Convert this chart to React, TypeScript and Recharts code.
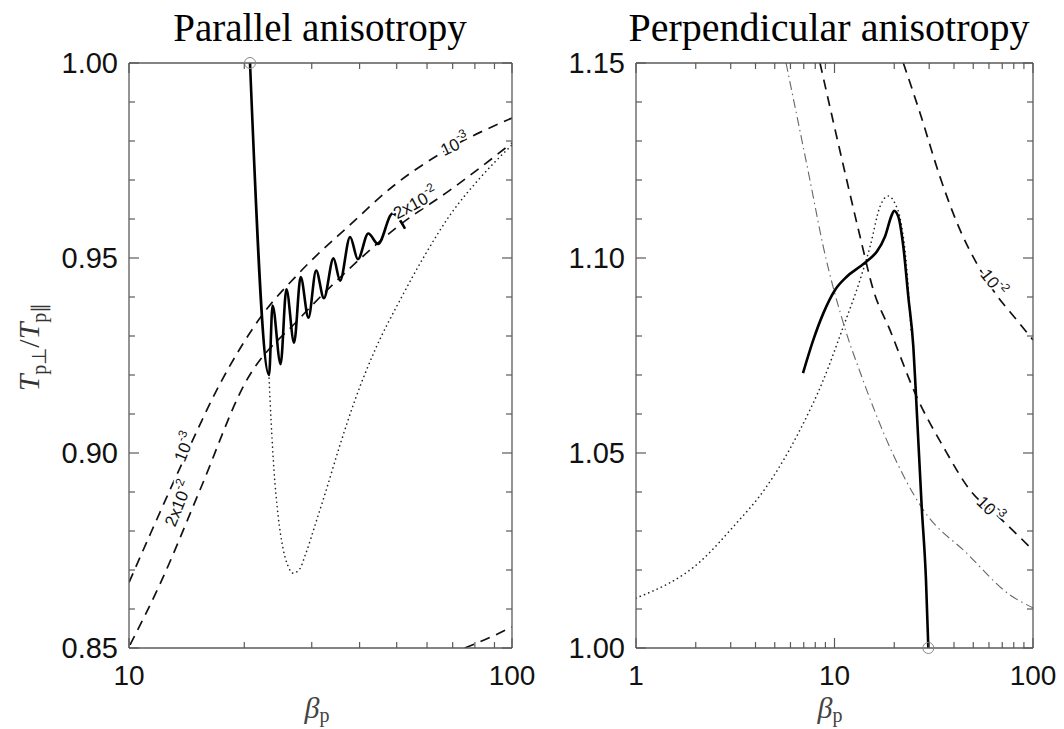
import React from "react";
import { LineChart, Line, XAxis, YAxis, ReferenceDot } from "recharts";

// ---- left panel: parallel anisotropy ----
const parTicksX = [10, 20, 30, 40, 50, 60, 70, 80, 90, 100];
const parLabelsX = [10, 100];
const parMajorX = [10, 100];
const parTicksY = [0.85, 0.86, 0.87, 0.88, 0.89, 0.9, 0.91, 0.92, 0.93, 0.94, 0.95, 0.96, 0.97, 0.98, 0.99, 1.0];
const parMajorY = [0.85, 0.9, 0.95, 1.0];

// solid: trajectory (drops from the circle then oscillates)
const parPathBeta = [20.7, 23.21, 23.7, 24.88, 25.76, 26.98, 28.07, 29.41, 30.8, 32.28, 34.19, 35.58, 37.78, 39.59, 42.15, 44.69, 48.77, 52.56];
const parPathRatio = [1.0, 0.92, 0.9378, 0.9228, 0.942, 0.9283, 0.9451, 0.9347, 0.9468, 0.9397, 0.9499, 0.9442, 0.9554, 0.9497, 0.9563, 0.9536, 0.9614, 0.9575];

// dashed contours
const parC3Beta = [10, 11.34, 13.59, 17.49, 21.98, 27.96, 37.76, 48.91, 68.89, 100];
const parC3Ratio = [0.8668, 0.879, 0.8962, 0.9187, 0.9346, 0.9464, 0.9585, 0.9684, 0.9782, 0.9859];
const parC2Beta = [10.06, 12.05, 15.32, 20.09, 27.96, 37.76, 51.0, 68.89, 100];
const parC2Ratio = [0.8508, 0.8664, 0.8905, 0.9179, 0.9346, 0.9474, 0.9585, 0.9674, 0.9795];
const parC1Beta = [75.3, 87.6, 100];
const parC1Ratio = [0.85, 0.8527, 0.8554];

// dotted: marginal stability curve
const parDotBeta = [23.21, 23.49, 23.91, 24.5, 25.24, 26.02, 26.81, 27.79, 28.99, 30.6, 32.49, 35.56, 38.91, 43.88, 51.0, 59.28, 68.89, 82.48, 100];
const parDotRatio = [0.9192, 0.9085, 0.8956, 0.8841, 0.8756, 0.871, 0.8692, 0.87, 0.8744, 0.8815, 0.8895, 0.9021, 0.9136, 0.9264, 0.9392, 0.9508, 0.961, 0.9705, 0.979];

// ---- right panel: perpendicular anisotropy ----
const perpTicksX = [1, 2, 3, 4, 5, 6, 7, 8, 9, 10, 20, 30, 40, 50, 60, 70, 80, 90, 100];
const perpLabelsX = [1, 10, 100];
const perpMajorX = [1, 10, 100];
const perpTicksY = [1.0, 1.01, 1.02, 1.03, 1.04, 1.05, 1.06, 1.07, 1.08, 1.09, 1.1, 1.11, 1.12, 1.13, 1.14, 1.15];
const perpMajorY = [1.0, 1.05, 1.1, 1.15];

const perpPathBeta = [6.94, 7.82, 8.78, 10.06, 11.52, 13.45, 14.8, 16.32, 17.97, 19.42, 19.94, 20.96, 22.22, 23.54, 24.95, 25.65, 27.5, 28.9, 29.7];
const perpPathRatio = [1.0705, 1.079, 1.0858, 1.0918, 1.0952, 1.0978, 1.0995, 1.1016, 1.1055, 1.111, 1.1121, 1.1106, 1.1029, 1.0901, 1.0773, 1.0662, 1.0362, 1.0174, 1.0];

const perpDotBeta = [1.0, 2.1, 3.09, 4.55, 6.7, 8.78, 11.08, 13.45, 15.1, 16.95, 18.66, 20.17, 21.38, 22.92, 24.29];
const perpDotRatio = [1.0128, 1.0221, 1.0311, 1.0414, 1.0559, 1.0687, 1.0824, 1.0944, 1.1029, 1.1132, 1.1159, 1.114, 1.1103, 1.0995, 1.0815];

const perpDashDotBeta = [5.7, 7.52, 8.78, 11.08, 13.92, 18.32, 28.02, 46.35, 76.6, 100];
const perpDashDotRatio = [1.15, 1.12, 1.1029, 1.0833, 1.0687, 1.0533, 1.0354, 1.0243, 1.0136, 1.0103];

const perpC3Beta = [8.45, 11.52, 13.45, 15.69, 19.04, 25.95, 35.32, 48.16, 68.22, 100];
const perpC3Ratio = [1.15, 1.12, 1.1055, 1.0918, 1.0815, 1.0644, 1.0516, 1.0405, 1.0333, 1.0251];
const perpC2Beta = [22.22, 26.96, 34.0, 42.88, 52.04, 62.87, 82.8, 100];
const perpC2Ratio = [1.15, 1.1372, 1.1208, 1.1072, 1.0986, 1.0918, 1.0841, 1.079];

const AXIS = "#5a5a5a";
const SANS = "'Liberation Sans', Arial, sans-serif";
const SERIF = "'Liberation Serif', 'Times New Roman', serif";

type Pt = { beta: number; ratio: number };
const zip = (b: number[], r: number[]): Pt[] => b.map((beta, i) => ({ beta, ratio: r[i] }));

function XTick(props: any) {
  const { x, y, payload, labels, majors, top } = props;
  const v = payload.value;
  const len = majors.includes(v) ? 10 : 6;
  const dir = top ? 1 : -1;
  return (
    <g>
      <line x1={x} x2={x} y1={y} y2={y + dir * len} stroke={AXIS} strokeWidth={1.2} />
      {!top && labels.includes(v) && (
        <text x={x} y={y + 37} textAnchor="middle" fontFamily={SANS} fontSize={28} fill="#111">
          {v}
        </text>
      )}
    </g>
  );
}

function YTick(props: any) {
  const { x, y, payload, majors, right } = props;
  const v = payload.value;
  const major = majors.some((m: number) => Math.abs(m - v) < 1e-6);
  const len = major ? 10 : 6;
  const dir = right ? -1 : 1;
  return (
    <g>
      <line x1={x} x2={x + dir * len} y1={y} y2={y} stroke={AXIS} strokeWidth={1.2} />
      {!right && major && (
        <text x={x - 11} y={y + 10} textAnchor="end" fontFamily={SANS} fontSize={29} fill="#111">
          {v.toFixed(2)}
        </text>
      )}
    </g>
  );
}

function contourLabel(base: string, exp: string, angle: number) {
  return (p: any) => (
    <text
      x={p.cx}
      y={p.cy}
      transform={`rotate(${angle} ${p.cx} ${p.cy})`}
      textAnchor="middle"
      dominantBaseline="central"
      fontFamily={SANS}
      fontSize={17}
      fill="#111"
      stroke="#fff"
      strokeWidth={4}
      paintOrder="stroke"
    >
      {base}
      <tspan dy={-7} fontSize={12}>
        {exp}
      </tspan>
    </text>
  );
}

const ringShape = (p: any) => <circle cx={p.cx} cy={p.cy} r={5.5} fill="none" stroke="#888" strokeWidth={1} />;

type PanelProps = {
  width: number;
  margin: { top: number; right: number; bottom: number; left: number };
  domX: number[];
  ticksX: number[];
  labelsX: number[];
  majorX: number[];
  domY: number[];
  ticksY: number[];
  majorY: number[];
  children: React.ReactNode;
};

function Panel({ width, margin, domX, ticksX, labelsX, majorX, domY, ticksY, majorY, children }: PanelProps) {
  const axisLine = { stroke: AXIS, strokeWidth: 1.3 };
  const xCommon = {
    dataKey: "beta",
    type: "number" as const,
    scale: "log" as const,
    domain: domX,
    ticks: ticksX,
    interval: 0,
    allowDataOverflow: true,
    height: 1,
    tickSize: 0,
    tickMargin: 0,
    tickLine: false,
    axisLine,
  };
  const yCommon = {
    dataKey: "ratio",
    type: "number" as const,
    domain: domY,
    ticks: ticksY,
    interval: 0,
    allowDataOverflow: true,
    width: 1,
    tickSize: 0,
    tickMargin: 0,
    tickLine: false,
    axisLine,
  };
  return (
    <LineChart width={width} height={729} margin={margin}>
      <XAxis xAxisId="b" {...xCommon} tick={(p: any) => <XTick {...p} labels={labelsX} majors={majorX} />} />
      <XAxis xAxisId="t" orientation="top" {...xCommon} tick={(p: any) => <XTick {...p} labels={labelsX} majors={majorX} top />} />
      <YAxis yAxisId="l" {...yCommon} tick={(p: any) => <YTick {...p} majors={majorY} />} />
      <YAxis yAxisId="r" orientation="right" {...yCommon} tick={(p: any) => <YTick {...p} majors={majorY} right />} />
      {children}
    </LineChart>
  );
}

const dashed = { stroke: "#111", strokeWidth: 1.7, strokeDasharray: "10 7" };
const dotted = { stroke: "#222", strokeWidth: 1.6, strokeDasharray: "0.1 4.5", strokeLinecap: "round" as const };

export default function App() {
  const common = { xAxisId: "b", yAxisId: "l", dataKey: "ratio", dot: false, isAnimationActive: false, activeDot: false };
  const betaLabel = { position: "absolute" as const, width: 100, top: 695, textAlign: "center" as const, fontFamily: SERIF, fontSize: 30, lineHeight: "26px", color: "#444" };
  return (
    <div style={{ position: "absolute", left: 0, top: 0, width: 1064, height: 729, background: "#fff", overflow: "hidden" }}>
      <div style={{ position: "absolute", left: 0, top: 0 }}>
        <Panel
          width={540}
          margin={{ top: 62, right: 27, bottom: 80, left: 128 }}
          domX={[10, 100]}
          ticksX={parTicksX}
          labelsX={parLabelsX}
          majorX={parMajorX}
          domY={[0.85, 1.0]}
          ticksY={parTicksY}
          majorY={parMajorY}
        >
          <Line {...common} data={zip(parDotBeta, parDotRatio)} type="monotone" {...dotted} />
          <Line {...common} data={zip(parC3Beta, parC3Ratio)} type="monotone" {...dashed} />
          <Line {...common} data={zip(parC2Beta, parC2Ratio)} type="monotone" {...dashed} />
          <Line {...common} data={zip(parC1Beta, parC1Ratio)} type="monotone" {...dashed} />
          <Line {...common} data={zip(parPathBeta, parPathRatio)} type="monotone" stroke="#000" strokeWidth={2.6} strokeLinejoin="round" />
          <ReferenceDot xAxisId="b" yAxisId="l" x={parPathBeta[0]} y={parPathRatio[0]} ifOverflow="visible" shape={ringShape} />
          <ReferenceDot xAxisId="b" yAxisId="l" x={71} y={0.979} ifOverflow="visible" shape={contourLabel("10", "-3", -25)} />
          <ReferenceDot xAxisId="b" yAxisId="l" x={56} y={0.964} ifOverflow="visible" shape={contourLabel("2x10", "-2", -28)} />
          <ReferenceDot xAxisId="b" yAxisId="l" x={14.0} y={0.9015} ifOverflow="visible" shape={contourLabel("10", "-3", -68)} />
          <ReferenceDot xAxisId="b" yAxisId="l" x={13.5} y={0.887} ifOverflow="visible" shape={contourLabel("2x10", "-2", -68)} />
        </Panel>
      </div>
      <div style={{ position: "absolute", left: 540, top: 0 }}>
        <Panel
          width={524}
          margin={{ top: 62, right: 30, bottom: 80, left: 95 }}
          domX={[1, 100]}
          ticksX={perpTicksX}
          labelsX={perpLabelsX}
          majorX={perpMajorX}
          domY={[1.0, 1.15]}
          ticksY={perpTicksY}
          majorY={perpMajorY}
        >
          <Line {...common} data={zip(perpDotBeta, perpDotRatio)} type="monotone" {...dotted} />
          <Line {...common} data={zip(perpDashDotBeta, perpDashDotRatio)} type="monotone" stroke="#666" strokeWidth={1.1} strokeDasharray="9 4 1.5 4" />
          <Line {...common} data={zip(perpC3Beta, perpC3Ratio)} type="monotone" {...dashed} />
          <Line {...common} data={zip(perpC2Beta, perpC2Ratio)} type="monotone" {...dashed} />
          <Line {...common} data={zip(perpPathBeta, perpPathRatio)} type="monotone" stroke="#000" strokeWidth={2.6} />
          <ReferenceDot xAxisId="b" yAxisId="l" x={perpPathBeta[perpPathBeta.length - 1]} y={perpPathRatio[perpPathRatio.length - 1]} ifOverflow="visible" shape={ringShape} />
          <ReferenceDot xAxisId="b" yAxisId="l" x={62.9} y={1.0936} ifOverflow="visible" shape={contourLabel("10", "-2", 52)} />
          <ReferenceDot xAxisId="b" yAxisId="l" x={60.7} y={1.0355} ifOverflow="visible" shape={contourLabel("10", "-3", 45)} />
        </Panel>
      </div>

      <div style={{ position: "absolute", left: 0, width: 640, top: 8, textAlign: "center", fontFamily: SERIF, fontSize: 39, lineHeight: "39px", color: "#000" }}>
        Parallel anisotropy
      </div>
      <div style={{ position: "absolute", left: 624, width: 410, top: 8, textAlign: "center", fontFamily: SERIF, fontSize: 40, lineHeight: "39px", color: "#000" }}>
        Perpendicular anisotropy
      </div>

      <div style={{ ...betaLabel, left: 267 }}>
        <i>β</i>
        <span style={{ fontSize: 20, position: "relative", top: 4 }}>p</span>
      </div>
      <div style={{ ...betaLabel, left: 780 }}>
        <i>β</i>
        <span style={{ fontSize: 20, position: "relative", top: 4 }}>p</span>
      </div>

      <div
        style={{
          position: "absolute",
          left: 30,
          top: 347,
          transform: "translate(-50%, -50%) rotate(-90deg)",
          fontFamily: SERIF,
          fontSize: 30,
          lineHeight: "30px",
          whiteSpace: "nowrap",
          color: "#333",
        }}
      >
        <i>T</i>
        <span style={{ fontSize: 20, position: "relative", top: 7 }}>p⊥</span>/<i>T</i>
        <span style={{ fontSize: 20, position: "relative", top: 7 }}>p∥</span>
      </div>
    </div>
  );
}
